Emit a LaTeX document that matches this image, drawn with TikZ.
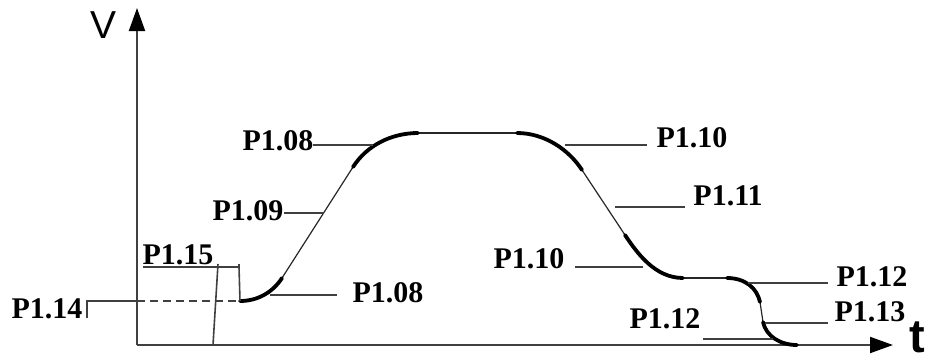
\documentclass[tikz,border=0pt]{standalone}
\usepackage{fontspec}
\setmainfont{Liberation Serif}
\setsansfont{Liberation Sans}
\usetikzlibrary{arrows.meta}
\begin{document}
\begin{tikzpicture}[x=1pt,y=-1pt,
  lbl/.style={font=\fontsize{30}{30}\selectfont\bfseries, inner sep=0pt, anchor=center},
  lead/.style={draw=black!75, line width=1.6pt},
  thincurve/.style={draw=black!85, line width=1.2pt},
  boldcurve/.style={draw=black, line width=3.8pt, line cap=round},
  axisline/.style={draw=black!75, line width=2pt, -{Triangle[length=23pt,width=16pt,color=black]}}]
\useasboundingbox (0,0) rectangle (926,360);

% axes
\coordinate (O) at (137,345);
\coordinate (Ytip) at (137,8);
\coordinate (Xtip) at (893,345);
\draw[axisline] (O) -- (Ytip);
\draw[axisline] (O) -- (Xtip);
\node[font=\sffamily\fontsize{39}{39}\selectfont, inner sep=0pt] (V) at (104,25) {V};
\node[font=\sffamily\bfseries\fontsize{47}{47}\selectfont, inner sep=0pt, anchor=base west] (T) at (909,352) {t};

% curve key points
\coordinate (A) at (240,301);
\coordinate (B) at (282,278);
\coordinate (C) at (353,167);
\coordinate (D) at (418,133);
\coordinate (E) at (517,133);
\coordinate (F) at (582,170);
\coordinate (G) at (625,235);
\coordinate (H) at (683,278);
\coordinate (I) at (727,278);
\coordinate (J) at (760,302);
\coordinate (K) at (763,322);
\coordinate (L) at (797,345);

% thin straight parts
\draw[thincurve] (B) -- (C);
\draw[thincurve] (D) -- (E);
\draw[thincurve] (F) -- (G);
\draw[thincurve] (H) -- (I);
\draw[thincurve] (J) -- (K);
% bold rounded parts
\draw[boldcurve] (A) .. controls (258,301) and (273,292) .. (B);
\draw[boldcurve] (C) .. controls (367,145) and (392,133) .. (D);
\draw[boldcurve] (E) .. controls (545,133) and (569,150) .. (F);
\draw[boldcurve] (G) .. controls (637,253) and (655,278) .. (H);
\draw[boldcurve] (I) .. controls (745,278) and (757,288) .. (J);
\draw[boldcurve] (K) .. controls (766,336) and (780,345) .. (L);

% labels
\node[lbl] (l15) at (178,255) {P1.15};
\node[lbl] (l14) at (47,309) {P1.14};
\node[lbl] (l08b) at (388,293) {P1.08};
\node[lbl] (l09) at (248,211) {P1.09};
\node[lbl] (l08t) at (278,141) {P1.08};
\node[lbl] (l10t) at (692,138) {P1.10};
\node[lbl] (l11) at (728,196) {P1.11};
\node[lbl] (l10b) at (529,259) {P1.10};
\node[lbl] (l12r) at (872,277) {P1.12};
\node[lbl] (l13) at (870,312) {P1.13};
\node[lbl] (l12b) at (665,319) {P1.12};

% leader lines
% P1.15
\coordinate (p15a) at (143,267);
\coordinate (p15b) at (239,267);
\coordinate (p15t1) at (218,264);
\coordinate (p15t2) at (213,345);
\draw[lead] (p15a) -- (p15b) -- (A);
\draw[lead] (239,264) -- (p15b);
\draw[lead] (p15t1) -- (p15t2);
% P1.14
\coordinate (p14a) at (87,318);
\coordinate (p14b) at (87,301);
\draw[lead] (p14a) -- (p14b) -- (137,301);
\draw[lead, dash pattern=on 8pt off 5pt] (137,301) -- (A);
% others
\draw[lead] (270,295) -- (337,295);
\draw[lead] (284,213) -- (324,213);
\draw[lead] (313,145) -- (373,145);
\draw[lead] (565,145) -- (647,145);
\draw[lead] (615,207) -- (685,207);
\draw[lead] (575,267) -- (643,267);
\draw[lead] (748,283) -- (828,283);
\draw[lead] (765,323) -- (828,323);
\draw[lead] (703,339) -- (773,339);
\end{tikzpicture}
\end{document}
